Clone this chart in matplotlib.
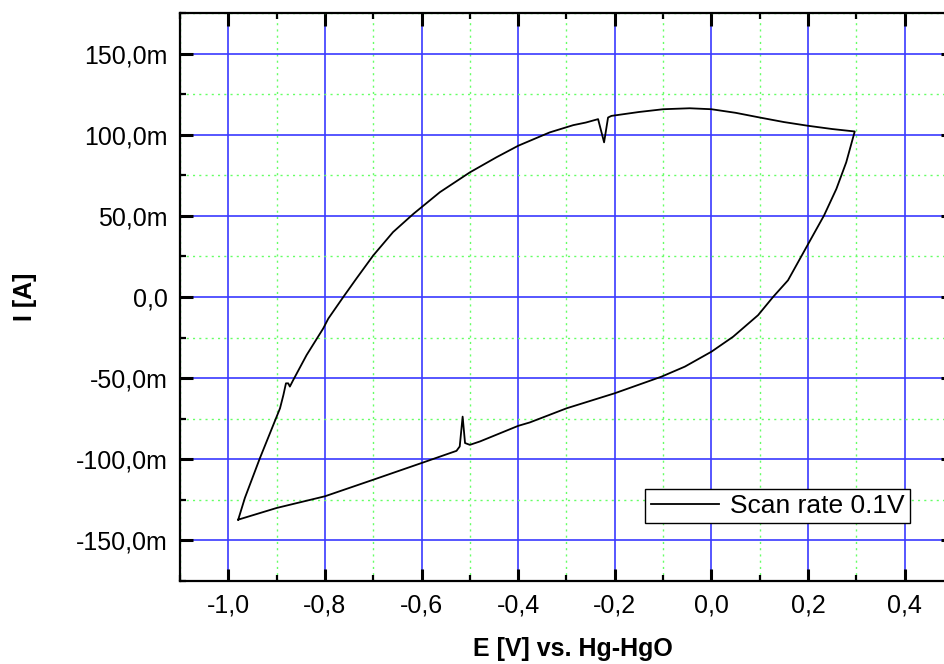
import matplotlib
matplotlib.use("Agg")
import matplotlib.pyplot as plt
from matplotlib.ticker import FuncFormatter, MultipleLocator

plt.rcParams['font.family'] = ['Liberation Sans', 'DejaVu Sans']

# potential [V] and current [mA] (anodic branch, then cathodic branch)
e_up = [-0.9795, -0.9657, -0.9346, -0.893, -0.886, -0.8807, -0.876, -0.8726, -0.8657,
        -0.838, -0.8036, -0.793, -0.762, -0.735, -0.700, -0.659, -0.617, -0.562,
        -0.500, -0.445, -0.400, -0.335, -0.286, -0.260, -0.2346, -0.2222, -0.214,
        -0.207, -0.150, -0.100, -0.045, 0.0, 0.050, 0.100, 0.150, 0.200, 0.250, 0.2966]
i_up = [-137.2, -123.8, -99.3, -68.6, -60.4, -53.2, -53.2, -55.2, -51.2,
        -35.8, -19.4, -13.3, 0.0, 11.3, 25.6, 40.0, 51.2, 64.6,
        76.8, 86.1, 93.2, 101.4, 105.9, 107.5, 109.6, 95.3, 110.6,
        111.6, 114.0, 115.7, 116.3, 115.7, 113.5, 110.6, 107.8, 105.5, 103.5, 102.0]

e_down = [0.279, 0.2586, 0.233, 0.1986, 0.1585, 0.1540, 0.1275, 0.0965, 0.0448, 0.0,
          -0.055, -0.1035, -0.200, -0.300, -0.376, -0.400, -0.479, -0.500, -0.510,
          -0.515, -0.521, -0.5277, -0.600, -0.700, -0.800, -0.900, -0.9795]
i_down = [83.0, 66.6, 50.2, 31.8, 10.3, 8.8, 0.0, -11.2, -24.5, -33.7,
          -42.9, -49.1, -59.3, -68.6, -77.3, -79.4, -89.0, -91.1, -90.0,
          -73.7, -92.1, -94.8, -102.3, -112.6, -122.8, -130.0, -137.2]

E = e_up + e_down
I = [v / 1000.0 for v in i_up + i_down]

fig = plt.figure(figsize=(9.44, 6.64), dpi=100)
ax = fig.add_axes([180 / 944, 83 / 664, 773 / 944, 568 / 664])

ax.plot(E, I, color='black', lw=1.3, label='Scan rate 0.1V')

ax.set_xlim(-1.1, 0.5)
ax.set_ylim(-0.175, 0.175)
ax.xaxis.set_major_locator(MultipleLocator(0.2))
ax.xaxis.set_minor_locator(MultipleLocator(0.1))
ax.yaxis.set_major_locator(MultipleLocator(0.05))
ax.yaxis.set_minor_locator(MultipleLocator(0.025))


def xfmt(v, pos):
    s = '%.1f' % v
    if s == '-0.0':
        s = '0.0'
    return s.replace('.', ',')


def yfmt(v, pos):
    m = round(v * 1000, 1)
    if abs(m) < 1e-9:
        return '0,0'
    return ('%.1fm' % m).replace('.', ',')


ax.xaxis.set_major_formatter(FuncFormatter(xfmt))
ax.yaxis.set_major_formatter(FuncFormatter(yfmt))

ax.grid(which='major', color='#3a3aff', lw=1.2, ls='-')
ax.grid(which='minor', color='#66ff66', lw=1.0, ls=(0, (1.5, 3)))
ax.set_axisbelow(True)

ax.tick_params(which='both', direction='in', top=True, right=True, labelsize=18, pad=9)
ax.tick_params(which='major', length=9, width=2.2)
ax.tick_params(which='minor', length=4.5, width=1.6)
for s in ax.spines.values():
    s.set_linewidth(1.6)

ax.set_xlabel('E [V] vs. Hg-HgO', fontsize=18, fontweight='bold')
ax.set_ylabel('I [A]', fontsize=18, fontweight='bold')
ax.xaxis.set_label_coords(0.508, -0.098)
ax.yaxis.set_label_coords(-0.185, 0.5)

leg = ax.legend(loc='lower right', bbox_to_anchor=(0.944, 0.102), borderaxespad=0,
                fontsize=19, fancybox=False, framealpha=1, edgecolor='black',
                handlelength=2.6, handletextpad=0.4, borderpad=0.2)
leg.get_frame().set_linewidth(1.0)

fig.savefig('out.png', dpi=100)
